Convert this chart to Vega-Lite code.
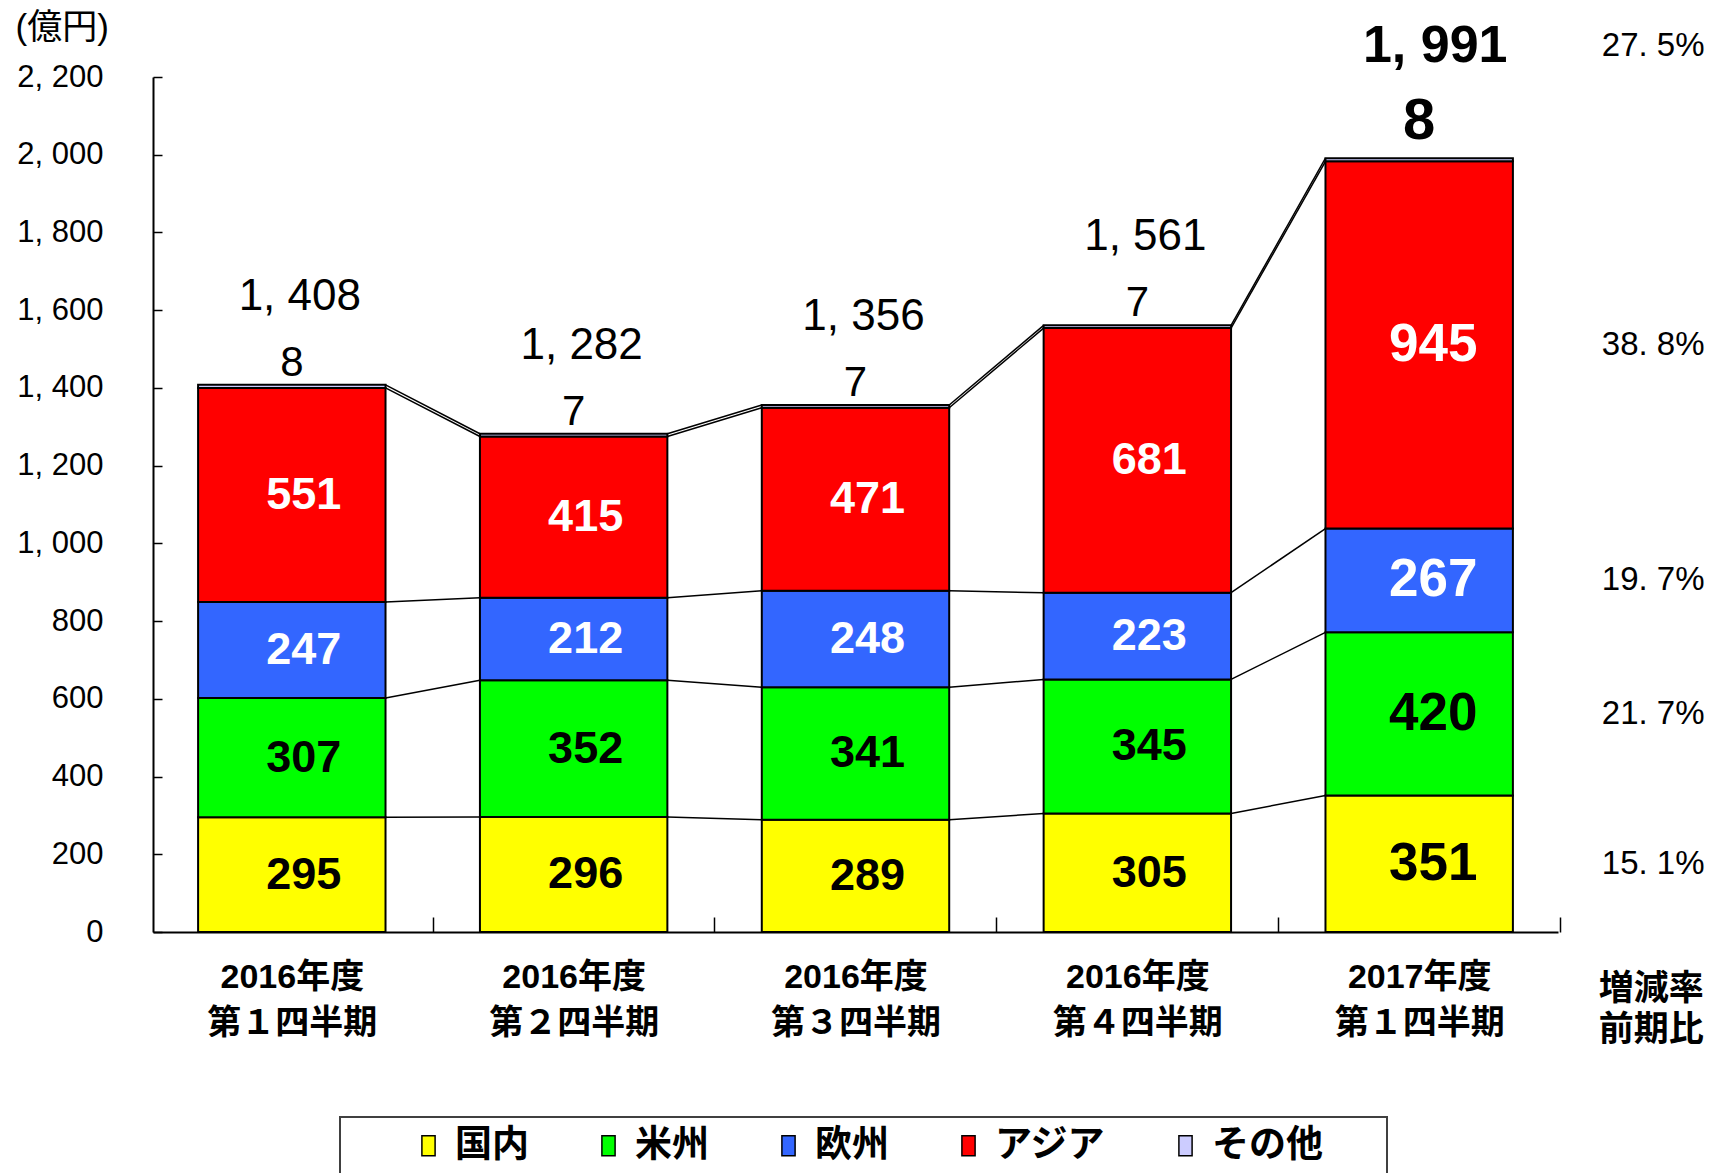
{
  "$schema": "https://vega.github.io/schema/vega-lite/v6.json",
  "width": 1405,
  "height": 855,
  "autosize": "none",
  "padding": {"left": 153, "top": 77, "right": 153, "bottom": 241},
  "background": "white",
  "config": {
    "view": {"stroke": null},
    "font": "Liberation Sans, Noto Sans CJK JP",
    "axis": {"domainColor": "black", "domainWidth": 2, "tickColor": "black", "tickWidth": 1.5, "grid": false, "labelColor": "black", "titleColor": "black"},
    "legend": {"strokeWidth": 2}
  },
  "datasets": {
    "seg": [
      {"q": "2016年度 第１四半期", "region": "国内", "idx": 0, "v": 295},
      {"q": "2016年度 第１四半期", "region": "米州", "idx": 1, "v": 307},
      {"q": "2016年度 第１四半期", "region": "欧州", "idx": 2, "v": 247},
      {"q": "2016年度 第１四半期", "region": "アジア", "idx": 3, "v": 551},
      {"q": "2016年度 第１四半期", "region": "その他", "idx": 4, "v": 8},
      {"q": "2016年度 第２四半期", "region": "国内", "idx": 0, "v": 296},
      {"q": "2016年度 第２四半期", "region": "米州", "idx": 1, "v": 352},
      {"q": "2016年度 第２四半期", "region": "欧州", "idx": 2, "v": 212},
      {"q": "2016年度 第２四半期", "region": "アジア", "idx": 3, "v": 415},
      {"q": "2016年度 第２四半期", "region": "その他", "idx": 4, "v": 7},
      {"q": "2016年度 第３四半期", "region": "国内", "idx": 0, "v": 289},
      {"q": "2016年度 第３四半期", "region": "米州", "idx": 1, "v": 341},
      {"q": "2016年度 第３四半期", "region": "欧州", "idx": 2, "v": 248},
      {"q": "2016年度 第３四半期", "region": "アジア", "idx": 3, "v": 471},
      {"q": "2016年度 第３四半期", "region": "その他", "idx": 4, "v": 7},
      {"q": "2016年度 第４四半期", "region": "国内", "idx": 0, "v": 305},
      {"q": "2016年度 第４四半期", "region": "米州", "idx": 1, "v": 345},
      {"q": "2016年度 第４四半期", "region": "欧州", "idx": 2, "v": 223},
      {"q": "2016年度 第４四半期", "region": "アジア", "idx": 3, "v": 681},
      {"q": "2016年度 第４四半期", "region": "その他", "idx": 4, "v": 7},
      {"q": "2017年度 第１四半期", "region": "国内", "idx": 0, "v": 351, "pct": 15.1},
      {"q": "2017年度 第１四半期", "region": "米州", "idx": 1, "v": 420, "pct": 21.7},
      {"q": "2017年度 第１四半期", "region": "欧州", "idx": 2, "v": 267, "pct": 19.7},
      {"q": "2017年度 第１四半期", "region": "アジア", "idx": 3, "v": 945, "pct": 38.8},
      {"q": "2017年度 第１四半期", "region": "その他", "idx": 4, "v": 8}
    ],
    "tot": [
      {"q": "2016年度 第１四半期", "total": 1408, "other": 8},
      {"q": "2016年度 第２四半期", "total": 1282, "other": 7},
      {"q": "2016年度 第３四半期", "total": 1356, "other": 7},
      {"q": "2016年度 第４四半期", "total": 1561, "other": 7},
      {"q": "2017年度 第１四半期", "total": 1991, "other": 8, "pct": 27.5}
    ],
    "conn": [
      {"from": "2016年度 第１四半期", "to": "2016年度 第２四半期", "y1": 295, "y2": 296},
      {"from": "2016年度 第１四半期", "to": "2016年度 第２四半期", "y1": 602, "y2": 648},
      {"from": "2016年度 第１四半期", "to": "2016年度 第２四半期", "y1": 849, "y2": 860},
      {"from": "2016年度 第１四半期", "to": "2016年度 第２四半期", "y1": 1400, "y2": 1275},
      {"from": "2016年度 第１四半期", "to": "2016年度 第２四半期", "y1": 1408, "y2": 1282},
      {"from": "2016年度 第２四半期", "to": "2016年度 第３四半期", "y1": 296, "y2": 289},
      {"from": "2016年度 第２四半期", "to": "2016年度 第３四半期", "y1": 648, "y2": 630},
      {"from": "2016年度 第２四半期", "to": "2016年度 第３四半期", "y1": 860, "y2": 878},
      {"from": "2016年度 第２四半期", "to": "2016年度 第３四半期", "y1": 1275, "y2": 1349},
      {"from": "2016年度 第２四半期", "to": "2016年度 第３四半期", "y1": 1282, "y2": 1356},
      {"from": "2016年度 第３四半期", "to": "2016年度 第４四半期", "y1": 289, "y2": 305},
      {"from": "2016年度 第３四半期", "to": "2016年度 第４四半期", "y1": 630, "y2": 650},
      {"from": "2016年度 第３四半期", "to": "2016年度 第４四半期", "y1": 878, "y2": 873},
      {"from": "2016年度 第３四半期", "to": "2016年度 第４四半期", "y1": 1349, "y2": 1554},
      {"from": "2016年度 第３四半期", "to": "2016年度 第４四半期", "y1": 1356, "y2": 1561},
      {"from": "2016年度 第４四半期", "to": "2017年度 第１四半期", "y1": 305, "y2": 351},
      {"from": "2016年度 第４四半期", "to": "2017年度 第１四半期", "y1": 650, "y2": 771},
      {"from": "2016年度 第４四半期", "to": "2017年度 第１四半期", "y1": 873, "y2": 1038},
      {"from": "2016年度 第４四半期", "to": "2017年度 第１四半期", "y1": 1554, "y2": 1983},
      {"from": "2016年度 第４四半期", "to": "2017年度 第１四半期", "y1": 1561, "y2": 1991}
    ]
  },
  "layer": [
    {
      "data": {"name": "seg"},
      "mark": {"type": "bar", "stroke": "black", "strokeWidth": 2},
      "encoding": {
        "x": {
          "field": "q", "type": "nominal", "title": null,
          "scale": {"domain": ["2016年度 第１四半期", "2016年度 第２四半期", "2016年度 第３四半期", "2016年度 第４四半期", "2017年度 第１四半期"], "paddingInner": 0.335, "paddingOuter": 0.16},
          "axis": {"labelAngle": 0, "labelExpr": "split(datum.label, ' ')", "labelFontSize": 34, "labelFontWeight": "bold", "labelLineHeight": 46, "labelPadding": 43, "labelBaseline": "top", "tickSize": -15, "bandPosition": 1, "tickOffset": 47, "labelOffset": -47}
        },
        "y": {
          "field": "v", "type": "quantitative", "stack": "zero",
          "scale": {"domain": [0, 2200], "nice": false},
          "axis": {"values": [0, 200, 400, 600, 800, 1000, 1200, 1400, 1600, 1800, 2000, 2200], "labelExpr": "replace(format(datum.value, ','), ',', ', ')", "labelFontSize": 31, "labelPadding": 59, "tickSize": -9, "title": "(億円)", "titleAngle": 0, "titleX": -138, "titleY": -50, "titleAlign": "left", "titleBaseline": "middle", "titleFontSize": 35, "titleFontWeight": "normal"}
        },
        "color": {
          "field": "region", "type": "nominal",
          "scale": {"domain": ["国内", "米州", "欧州", "アジア", "その他"], "range": ["#FFFF00", "#00FF00", "#3366FF", "#FF0000", "#CCCCFF"]},
          "legend": {"orient": "none", "legendX": 187, "legendY": 1040, "direction": "horizontal", "title": "　", "titleFont": "Noto Sans CJK JP", "titleOrient": "left", "titleFontSize": 36, "titlePadding": 60, "padding": 10, "strokeColor": "#404040", "labelFontSize": 37, "labelFont": "Noto Sans CJK JP", "labelFontWeight": "bold", "labelColor": "black", "labelLimit": 400, "symbolType": "M-0.66,-1H0.66V1H-0.66Z", "symbolSize": 400, "symbolStrokeColor": "black", "symbolStrokeWidth": 1.5, "symbolOpacity": 1, "labelOffset": 8, "columnPadding": 61, "labelExpr": "datum.label == 'その他' ? 'その他\u2800\u2800' : datum.label"}
        },
        "order": {"field": "idx", "type": "quantitative"}
      }
    },
    {
      "data": {"name": "conn"},
      "mark": {"type": "rule", "color": "black", "strokeWidth": 1.5},
      "encoding": {
        "x": {"field": "from", "type": "nominal", "bandPosition": 1, "title": null},
        "x2": {"field": "to", "bandPosition": 0},
        "y": {"field": "y1", "type": "quantitative"},
        "y2": {"field": "y2"}
      }
    },
    {
      "data": {"name": "seg"},
      "transform": [{"filter": "datum.region != 'その他' && datum.q != '2017年度 第１四半期'"}],
      "mark": {"type": "text", "fontSize": 45, "fontWeight": "bold", "dx": 12, "baseline": "middle"},
      "encoding": {
        "x": {"field": "q", "type": "nominal", "title": null},
        "y": {"field": "v", "type": "quantitative", "stack": "zero", "bandPosition": 0.5},
        "detail": {"field": "region"},
        "order": {"field": "idx", "type": "quantitative"},
        "text": {"field": "v", "type": "quantitative"},
        "color": {"condition": {"test": "datum.region == '欧州' || datum.region == 'アジア'", "value": "white"}, "value": "black"}
      }
    },
    {
      "data": {"name": "seg"},
      "transform": [{"filter": "datum.region != 'その他' && datum.q == '2017年度 第１四半期'"}],
      "mark": {"type": "text", "fontSize": 53, "fontWeight": "bold", "dx": 14, "baseline": "middle"},
      "encoding": {
        "x": {"field": "q", "type": "nominal", "title": null},
        "y": {"field": "v", "type": "quantitative", "stack": "zero", "bandPosition": 0.5},
        "detail": {"field": "region"},
        "order": {"field": "idx", "type": "quantitative"},
        "text": {"field": "v", "type": "quantitative"},
        "color": {"condition": {"test": "datum.region == '欧州' || datum.region == 'アジア'", "value": "white"}, "value": "black"}
      }
    },
    {
      "data": {"name": "seg"},
      "transform": [{"filter": "datum.region != 'その他' && datum.q == '2017年度 第１四半期'"}],
      "mark": {"type": "text", "fontSize": 33, "dx": 234, "baseline": "middle", "color": "black", "text": {"expr": "replace(format(datum.pct, '.1f'), '.', '. ') + '%'"}},
      "encoding": {
        "x": {"field": "q", "type": "nominal", "title": null},
        "y": {"field": "v", "type": "quantitative", "stack": "zero", "bandPosition": 0.5},
        "detail": {"field": "region"},
        "order": {"field": "idx", "type": "quantitative"}
      }
    },
    {
      "data": {"name": "tot"},
      "transform": [{"filter": "datum.q != '2017年度 第１四半期'"}],
      "mark": {"type": "text", "fontSize": 42, "dy": -22, "baseline": "middle", "color": "black"},
      "encoding": {
        "x": {"field": "q", "type": "nominal", "title": null},
        "y": {"field": "total", "type": "quantitative"},
        "text": {"field": "other", "type": "quantitative"}
      }
    },
    {
      "data": {"name": "tot"},
      "transform": [{"filter": "datum.q != '2017年度 第１四半期'"}],
      "mark": {"type": "text", "fontSize": 44, "dy": -88, "dx": 8, "baseline": "middle", "color": "black", "text": {"expr": "replace(format(datum.total, ','), ',', ', ')"}},
      "encoding": {
        "x": {"field": "q", "type": "nominal", "title": null},
        "y": {"field": "total", "type": "quantitative"}
      }
    },
    {
      "data": {"name": "tot"},
      "transform": [{"filter": "datum.q == '2017年度 第１四半期'"}],
      "mark": {"type": "text", "fontSize": 58, "fontWeight": "bold", "dy": -36, "baseline": "middle", "color": "black"},
      "encoding": {
        "x": {"field": "q", "type": "nominal", "title": null},
        "y": {"field": "total", "type": "quantitative"},
        "text": {"field": "other", "type": "quantitative"}
      }
    },
    {
      "data": {"name": "tot"},
      "transform": [{"filter": "datum.q == '2017年度 第１四半期'"}],
      "mark": {"type": "text", "fontSize": 52, "fontWeight": "bold", "dy": -112, "dx": 16, "baseline": "middle", "color": "black", "text": {"expr": "replace(format(datum.total, ','), ',', ', ')"}},
      "encoding": {
        "x": {"field": "q", "type": "nominal", "title": null},
        "y": {"field": "total", "type": "quantitative"}
      }
    },
    {
      "data": {"name": "tot"},
      "transform": [{"filter": "datum.q == '2017年度 第１四半期'"}],
      "mark": {"type": "text", "fontSize": 33, "dy": -112, "dx": 234, "baseline": "middle", "color": "black", "text": {"expr": "replace(format(datum.pct, '.1f'), '.', '. ') + '%'"}},
      "encoding": {
        "x": {"field": "q", "type": "nominal", "title": null},
        "y": {"field": "total", "type": "quantitative"}
      }
    },
    {
      "data": {"name": "tot"},
      "transform": [{"filter": "datum.q == '2017年度 第１四半期'"}],
      "mark": {"type": "text", "fontSize": 35, "fontWeight": "bold", "font": "Noto Sans CJK JP", "dy": 40, "dx": 232, "baseline": "top", "lineHeight": 41, "color": "black"},
      "encoding": {
        "x": {"field": "q", "type": "nominal", "title": null},
        "y": {"datum": 0, "type": "quantitative"},
        "text": {"value": ["増減率", "前期比"]}
      }
    }
  ]
}
